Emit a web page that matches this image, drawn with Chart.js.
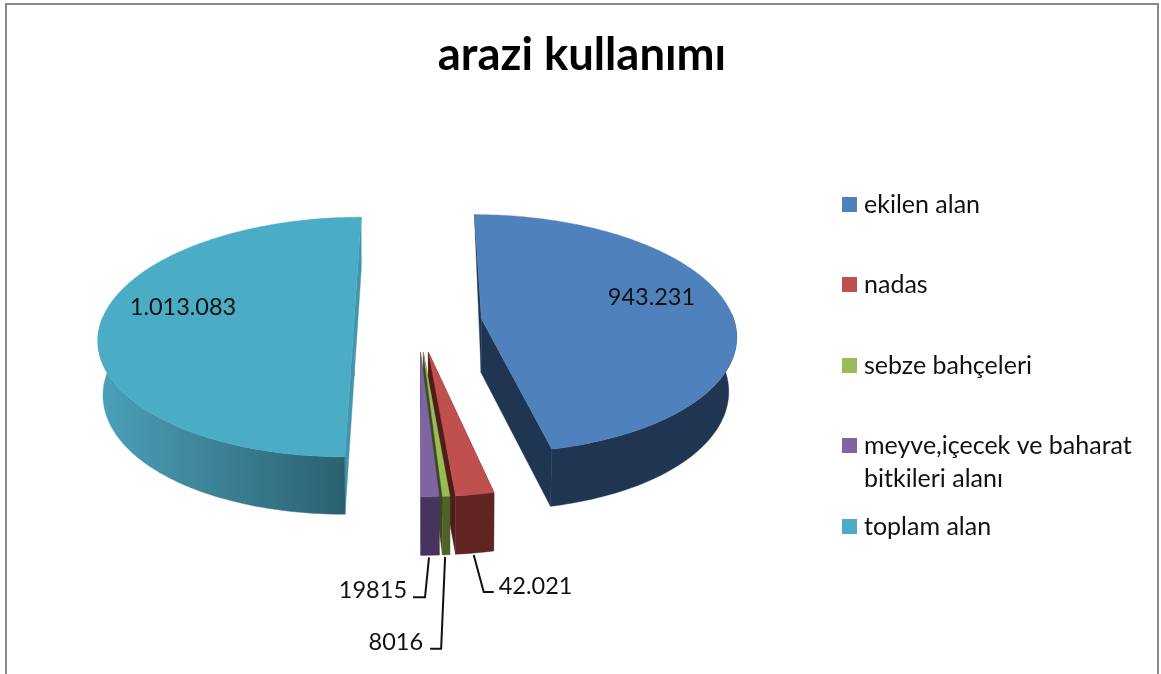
<!DOCTYPE html>
<html><head><meta charset="utf-8">
<style>
html,body{margin:0;padding:0;background:#fff;width:1161px;height:674px;overflow:hidden}
#frame{position:absolute;left:5px;top:3px;width:1154px;height:680px;box-sizing:border-box;border:2px solid #8a8a8a;border-bottom:none}
canvas{position:absolute;left:0;top:0;display:block}
</style>
<script src="https://cdn.jsdelivr.net/npm/chart.js@4/dist/chart.umd.js"></script>
</head><body>
<div id="frame"></div>
<canvas id="c" width="1161" height="674"></canvas>
<script>
const chartTitle = 'arazi kullanımı';
const categories = ['ekilen alan','nadas','sebze bahçeleri','meyve,içecek ve baharat bitkileri alanı','toplam alan'];
const values = [943231, 42021, 8016, 19815, 1013083];
const valueLabels = ['943.231','42.021','8016','19815','1.013.083'];
const topColors = ['#4f81bd','#c0504d','#9bbb59','#8064a2','#4bacc6'];
const wallLeft  = ['#2a4165','#632523','#4f6228','#46345f','#4a9fb8'];
const wallRight = ['#1f3552','#5f2422','#4f6228','#46345f','#2a5c6c'];
const cutColors = ['#1f3552','#4f1c1a','#3b4a1d','#46345f','#4295ad'];
const explode = [254,254,254,254,258];
const drawOrder = [4,1,2,3,0];

const FONT = 'Lato, Carlito, Calibri, sans-serif';
const K = 0.125, SQUASH = 0.4663, DEPTH = 54;

function projector(el){
  const R = el.outerRadius, cx = el.x, cy = el.y;
  const top = (u,v)=>{ const p = 1/(1-K*v); return {x:cx+R*u*p, y:cy+R*SQUASH*v*p, p}; };
  const low = (pt)=>{
    const dx = pt.x-cx;
    return {x:pt.x-Math.sign(dx)*dx*dx/(dx>0?12800:20000), y:pt.y+DEPTH*(1+(pt.p-1)*0.45)};
  };
  const mid = (el.startAngle+el.endAngle)/2;
  const d = (el.options.offset/4)/R;
  const u0 = Math.cos(mid)*d, v0 = Math.sin(mid)*d;
  const at = (a)=>top(u0+Math.cos(a), v0+Math.sin(a));
  return {top,low,at,apex:top(u0,v0),mid,cx};
}
function poly(ctx,pts,fill){
  ctx.beginPath();
  pts.forEach((p,i)=> i?ctx.lineTo(p.x,p.y):ctx.moveTo(p.x,p.y));
  ctx.closePath(); ctx.fillStyle=fill; ctx.fill();
  ctx.strokeStyle=fill; ctx.lineWidth=0.4; ctx.stroke();
}
const pie3d = {
  id:'pie3d',
  afterLayout(chart){
    // the title spans the whole canvas, not only the pie's box
    chart.titleBlock.left = 0;
    chart.titleBlock.right = 1164;
  },
  beforeDatasetDraw(chart,args){
    const ctx = chart.ctx, arcs = args.meta.data;
    drawOrder.forEach(i=>{
      const el = arcs[i], g = projector(el);
      const n = Math.max(4,Math.ceil((el.endAngle-el.startAngle)/0.02));
      const rim = [];
      for(let s=0;s<=n;s++) rim.push(g.at(el.startAngle+(el.endAngle-el.startAngle)*s/n));
      const rimLow = rim.map(g.low);
      const a = g.apex, aL = g.low(a);
      [[rim[0],rimLow[0]],[rim[n],rimLow[n]]].forEach(([r,rl])=>{
        const backRight = r.y<a.y && r.x>g.cx;
        poly(ctx,backRight?[a,r,aL]:[a,r,rl,aL],cutColors[i]);
      });
      const xs = rimLow.map(p=>p.x), x0=Math.min(...xs), x1=Math.max(...xs);
      const grad = ctx.createLinearGradient(x0,0,x1,0);
      grad.addColorStop(0,wallLeft[i]);
      grad.addColorStop(i===0?0.15:1,wallRight[i]);
      grad.addColorStop(1,wallRight[i]);
      const front = [], frontLow = [];
      rim.forEach((p,s)=>{ if(p.y>a.y-6){front.push(p);frontLow.push(rimLow[s]);} });
      poly(ctx,front.concat(frontLow.slice().reverse()),grad);
      poly(ctx,[a].concat(rim),el.options.backgroundColor);
    });
    return false;
  },
  afterDraw(chart){
    const ctx = chart.ctx, arcs = chart.getDatasetMeta(0).data;
    ctx.save();
    ctx.fillStyle='#111'; ctx.textBaseline='middle';
    ctx.font='23.5px '+FONT;
    [[0,170,-21],[4,-171,-15]].forEach(([i,dx,dy])=>{
      const a = projector(arcs[i]).apex;
      ctx.textAlign='center';
      ctx.fillText(valueLabels[i],a.x+dx,a.y+dy);
    });
    [[1,[-1,2],[9,39],[19,39],24,33,'left'],
     [2,[-1,2],[-5,94],[-16,94],-23,87.5,'right'],
     [3,[-1,2],[-5,42],[-17,42],-23,35,'right']].forEach(([i,s,kn,e,tx,ty,al])=>{
      const el = arcs[i], g = projector(el), b = g.low(g.at(g.mid));
      ctx.strokeStyle='#111'; ctx.lineWidth=2;
      ctx.beginPath();
      ctx.moveTo(b.x+s[0],b.y+s[1]); ctx.lineTo(b.x+kn[0],b.y+kn[1]); ctx.lineTo(b.x+e[0],b.y+e[1]);
      ctx.stroke();
      ctx.textAlign=al;
      ctx.fillText(valueLabels[i],b.x+tx,b.y+ty);
    });
    const tops=[197,277,358,438,519];
    ctx.font='25px '+FONT; ctx.textAlign='left'; ctx.textBaseline='alphabetic';
    categories.forEach((label,i)=>{
      ctx.fillStyle=topColors[i];
      ctx.fillRect(842,tops[i],15,15);
      ctx.fillStyle='#111';
      const lines=[]; let cur='';
      label.split(' ').forEach(w=>{
        const t=cur?cur+' '+w:w;
        if(ctx.measureText(t).width>275&&cur){lines.push(cur);cur=w;} else cur=t;
      });
      lines.push(cur);
      lines.forEach((l,j)=>ctx.fillText(l,864,tops[i]+16+j*33));
    });
    ctx.restore();
  }
};
new Chart(document.getElementById('c'),{
  type:'pie',
  data:{labels:categories,datasets:[{data:values,backgroundColor:topColors,borderWidth:0,offset:explode}]},
  options:{
    responsive:false,animation:false,radius:253,
    layout:{padding:{left:0,right:324,top:0,bottom:113.5}},
    plugins:{
      legend:{display:false},tooltip:{enabled:false},
      title:{display:true,text:chartTitle,color:'#000',
        font:{family:FONT,size:45.4,weight:'bold'},padding:{top:28,bottom:1}}
    }
  },
  plugins:[pie3d]
});
</script>
</body></html>
